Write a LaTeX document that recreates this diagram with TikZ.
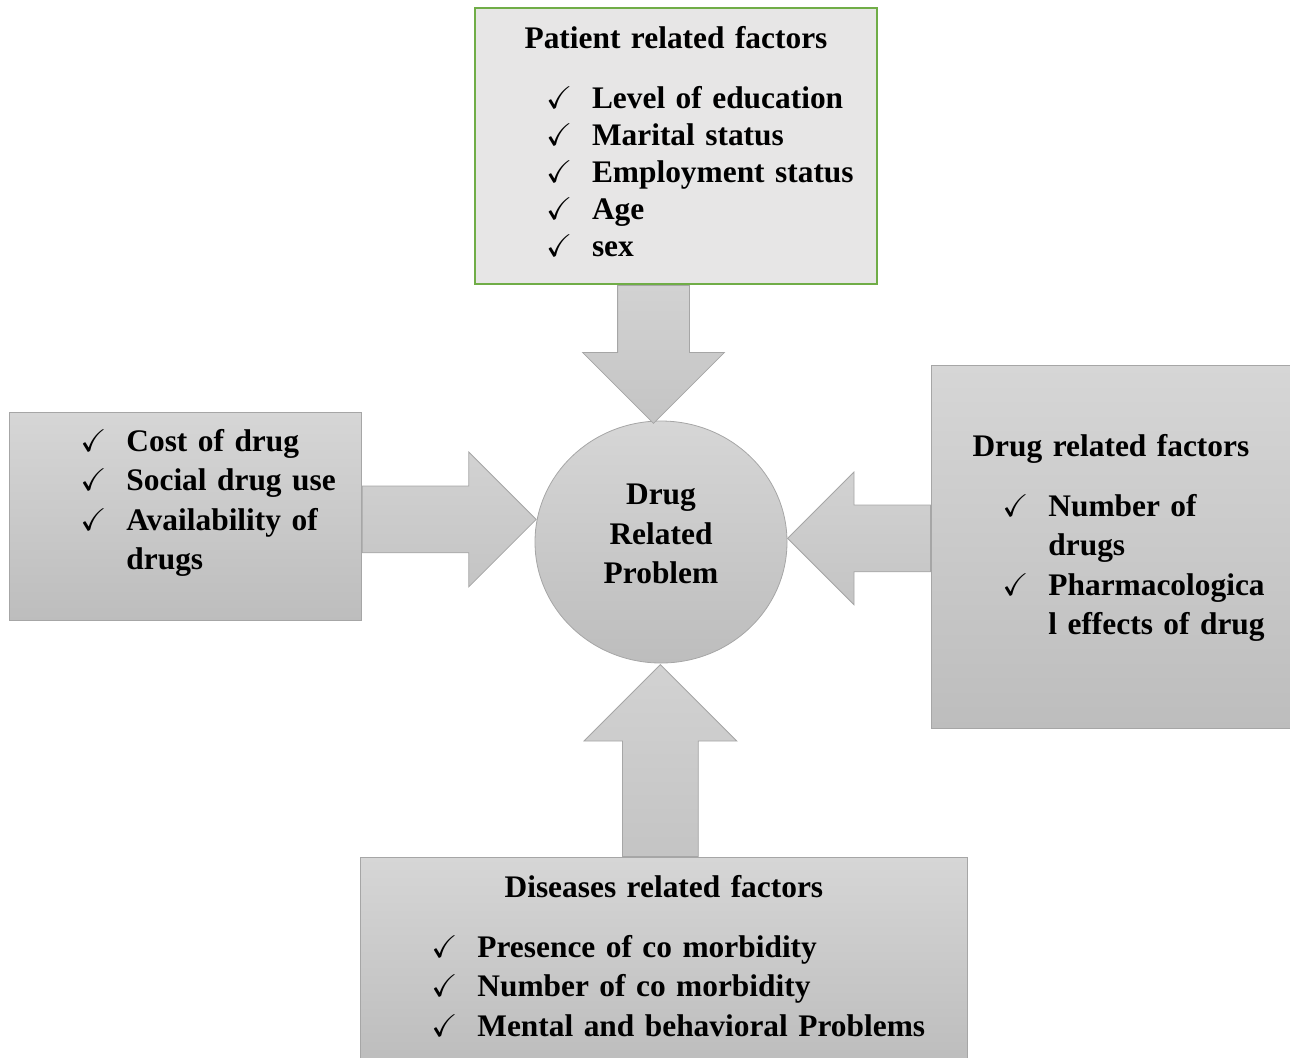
\documentclass[tikz,border=0pt]{standalone}
\usepackage{fontspec}
\setmainfont{Liberation Serif}
\usepackage{amssymb}
\usetikzlibrary{arrows, positioning, shapes.geometric, shapes.arrows, calc}
\setlength{\parindent}{0pt}

\definecolor{patientfill}{HTML}{E7E6E6}
\definecolor{patientline}{HTML}{70AD47}
\definecolor{boxtop}{HTML}{D6D6D6}
\definecolor{boxbottom}{HTML}{BDBDBD}
\definecolor{boxline}{HTML}{A6A6A6}
\definecolor{arrowdark}{HTML}{C4C4C4}
\definecolor{arrowlight}{HTML}{D2D2D2}

\newcommand{\ticklist}{\leftskip=35.5pt\rightskip=0pt plus 1fil\relax}
\newcommand{\tickitem}[1]{\hangindent=23pt\hangafter=1\noindent\makebox[23pt][l]{$\checkmark$}#1\par}

\begin{document}
\begin{tikzpicture}[x=0.5pt, y=-0.5pt,
  factorbox/.style={rectangle, draw=boxline, top color=boxtop, bottom color=boxbottom, anchor=north west, inner sep=0pt},
  factortext/.style={anchor=base, inner sep=0pt, text width=#1, font=\bfseries\fontsize{15.7}{19.75}\selectfont},
  fatarrow/.style={single arrow, draw=boxline, top color=arrowlight, bottom color=arrowdark, anchor=tail, inner xsep=0pt}]

\useasboundingbox (0,0) rectangle (1290,1057);

\node [ellipse, draw=boxline, top color=boxtop, bottom color=boxbottom, minimum width=126pt, minimum height=121pt] (problem) at (661,542) {};
\node [align=center, font=\bfseries\fontsize{15.7}{19.75}\selectfont] (problemtext) at ($(problem)+(0,-8)$) {Drug\\Related\\Problem};

% the four groups of factors
\node [rectangle, fill=patientfill, draw=patientline, line width=1pt, anchor=north west, inner sep=0pt, minimum width=201pt, minimum height=138pt] (patient) at (474,7) {};
\node [factorbox, minimum width=176pt, minimum height=104pt] (cost) at (9,412) {};
\node [factorbox, minimum width=179.5pt, minimum height=181.5pt] (drug) at (931,365) {};
\node [factorbox, minimum width=303.5pt, minimum height=102pt] (disease) at (360,857) {};

\node [factortext=201pt, below=20.5pt of patient.north, anchor=base] (patienttext) {\centering Patient related factors\par\vspace{11.5pt}\fontsize{15.7}{18.5}\selectfont\ticklist
  \tickitem{Level of education}\tickitem{Marital status}\tickitem{Employment status}\tickitem{Age}\tickitem{sex}};
\node [factortext=176pt, below=19.5pt of cost.north, anchor=base] (costtext) {\ticklist
  \tickitem{Cost of drug}\tickitem{Social drug use}\tickitem{Availability of\newline drugs}};
\node [factortext=179.5pt, below=45.5pt of drug.north, anchor=base] (drugtext) {\centering Drug related factors\par\vspace{10.25pt}\ticklist
  \tickitem{Number of\newline drugs}\tickitem{Pharmacologica\newline l effects of drug}};
\node [factortext=303.5pt, below=20pt of disease.north, anchor=base] (diseasetext) {\centering Diseases related factors\par\vspace{10.25pt}\ticklist
  \tickitem{Presence of co morbidity}\tickitem{Number of co morbidity}\tickitem{Mental and behavioral Problems}};

% block arrows into the problem
\node [fatarrow, rotate=-90, inner ysep=17.75pt, minimum height=69pt, minimum width=70.5pt, single arrow head extend=17.5pt] (patientarrow) at ($(patient.south)+(-22.5,0)$) {};
\node [fatarrow, inner ysep=16.5pt, minimum height=87pt, minimum width=67pt, single arrow head extend=17pt] (costarrow) at ($(cost.east)+(0,3)$) {};
\node [fatarrow, rotate=180, inner ysep=16.5pt, minimum height=71.5pt, minimum width=66pt, single arrow head extend=16.5pt] (drugarrow) at ($(drug.west)+(0,-8.5)$) {};
\node [fatarrow, rotate=90, inner ysep=18.75pt, minimum height=96pt, minimum width=76pt, single arrow head extend=19.25pt] (diseasearrow) at ($(disease.north)+(-3.5,0)$) {};
\end{tikzpicture}
\end{document}
